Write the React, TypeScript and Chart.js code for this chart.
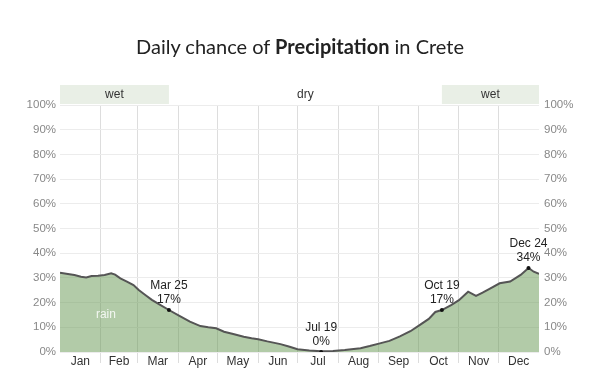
import React, { useEffect, useRef } from "react";
import { Chart, registerables } from "chart.js";

Chart.register(...registerables);

// ---- data ----
const MONTHS = ["Jan", "Feb", "Mar", "Apr", "May", "Jun", "Jul", "Aug", "Sep", "Oct", "Nov", "Dec"];
const MONTH_DAYS = [31, 28, 31, 30, 31, 30, 31, 31, 30, 31, 30, 31];

// day of year (0 = Jan 1) and daily chance of precipitation (%)
const DAYS = [0, 6, 11, 16, 20, 24, 29, 34, 39, 42, 46, 51, 56, 60, 65, 70, 76, 83, 91, 99, 107, 113, 119, 125, 132, 140, 146, 151, 158, 168, 175, 181, 190, 199, 208, 217, 222, 229, 236, 243, 251, 259, 267, 274, 281, 286, 291, 298, 304, 311, 317, 322, 328, 335, 343, 351, 357, 361, 365];
const RAIN = [32.1, 31.6, 31.2, 30.5, 30.2, 30.8, 30.9, 31.2, 31.9, 31.3, 29.8, 28.5, 27.1, 25.1, 23.1, 21.1, 19.2, 17, 14.6, 12.3, 10.5, 10.0, 9.6, 8.2, 7.3, 6.2, 5.6, 5.2, 4.3, 3.2, 2.1, 1.1, 0.6, 0.3, 0.4, 0.8, 1.1, 1.5, 2.4, 3.4, 4.5, 6.3, 8.4, 10.9, 13.4, 16.2, 17, 19, 21, 24.4, 22.7, 24, 25.8, 27.8, 28.5, 31.2, 34, 32.5, 31.6];

// annotated points
const ANN_DAYS = [83, 199, 291, 357];
const ANN_DATES = ["Mar 25", "Jul 19", "Oct 19", "Dec 24"];
const ANN_VALUES = [17, 0, 17, 34];

// seasons
const SEASON_START = [0, 83, 291];
const SEASON_END = [83, 291, 365];
const SEASON_NAMES = ["wet", "dry", "wet"];

const Y_TICKS = [0, 10, 20, 30, 40, 50, 60, 70, 80, 90, 100];

const FONT = '"Liberation Sans", Arial, sans-serif';

export default function App() {
  const ref = useRef<HTMLCanvasElement>(null);

  useEffect(() => {
    if (!ref.current) return;

    const monthStarts: number[] = [0];
    MONTH_DAYS.forEach((d, i) => monthStarts.push(monthStarts[i] + d));
    const xTickVals: number[] = [];
    for (let i = 0; i < 12; i++) {
      xTickVals.push(monthStarts[i]);
      xTickVals.push((monthStarts[i] + monthStarts[i + 1]) / 2);
    }
    xTickVals.push(monthStarts[12]);
    const seasonCenters = SEASON_START.map((s, i) => (s + SEASON_END[i]) / 2);

    const bandPlugin = {
      id: "bands",
      beforeDraw(chart: any) {
        const { ctx, chartArea } = chart;
        const x = chart.scales.x;
        ctx.save();
        ctx.fillStyle = "#e9efe6";
        SEASON_NAMES.forEach((n, i) => {
          if (n !== "wet") return;
          const x1 = x.getPixelForValue(SEASON_START[i]);
          const x2 = x.getPixelForValue(SEASON_END[i]);
          ctx.fillRect(x1, chartArea.top - 20, x2 - x1, 19);
        });
        ctx.restore();
      },
      afterDatasetsDraw(chart: any) {
        const { ctx } = chart;
        const x = chart.scales.x;
        const y = chart.scales.y;
        ctx.save();
        ctx.font = "12px " + FONT;
        ctx.textAlign = "center";
        ctx.textBaseline = "middle";
        ctx.fillStyle = "#222";
        ANN_DAYS.forEach((d, i) => {
          const px = x.getPixelForValue(d);
          const py = y.getPixelForValue(ANN_VALUES[i]);
          ctx.fillText(ANN_VALUES[i] + "%", px, py - 10);
          ctx.fillText(ANN_DATES[i], px, py - 24.5);
        });
        ctx.fillStyle = "rgba(255,255,255,0.85)";
        ctx.fillText("rain", x.getPixelForValue(35), y.getPixelForValue(15));
        ctx.restore();
      },
    };

    const chart = new Chart(ref.current, {
      type: "line",
      data: {
        datasets: [
          {
            label: "rain",
            data: DAYS.map((d, i) => ({ x: d, y: RAIN[i] })),
            borderColor: "#555",
            borderWidth: 2,
            backgroundColor: "rgba(101,151,81,0.5)",
            fill: "origin",
            pointRadius: 0,
            tension: 0,
            order: 2,
          },
          {
            label: "marks",
            data: ANN_DAYS.map((d, i) => ({ x: d, y: ANN_VALUES[i] })),
            showLine: false,
            pointRadius: 2,
            pointBackgroundColor: "#111",
            pointBorderColor: "#111",
            borderWidth: 0,
            fill: false,
            order: 1,
          },
        ],
      },
      options: {
        responsive: false,
        animation: false,
        layout: { padding: { top: 85, left: 0, right: 0, bottom: 0 } },
        plugins: {
          legend: { display: false },
          tooltip: { enabled: false },
          title: { display: false },
        },
        scales: {
          x: {
            type: "linear",
            position: "bottom",
            min: 0,
            max: 365,
            afterBuildTicks: (s: any) => {
              s.ticks = xTickVals.map((v) => ({ value: v }));
            },
            afterFit: (s: any) => {
              s.height = 32;
            },
            ticks: {
              autoSkip: false,
              maxRotation: 0,
              padding: -9,
              color: "#333",
              font: { size: 12, family: FONT },
              callback: (_v: any, i: number) => (i % 2 === 1 ? MONTHS[(i - 1) / 2] : ""),
            },
            grid: {
              drawTicks: true,
              tickLength: 11,
              color: (c: any) =>
                c.index % 2 === 0 && c.index !== 0 && c.index !== xTickVals.length - 1 ? "#dddddd" : "rgba(0,0,0,0)",
            },
            border: { display: false },
          },
          xt: {
            type: "linear",
            position: "top",
            min: 0,
            max: 365,
            afterBuildTicks: (s: any) => {
              s.ticks = seasonCenters.map((v) => ({ value: v }));
            },
            afterFit: (s: any) => {
              s.height = 20;
            },
            ticks: {
              autoSkip: false,
              maxRotation: 0,
              padding: 3,
              color: "#333",
              font: { size: 12, family: FONT },
              callback: (_v: any, i: number) => SEASON_NAMES[i],
            },
            grid: { display: false, drawTicks: false },
            border: { display: false },
          },
          y: {
            type: "linear",
            position: "left",
            min: 0,
            max: 100,
            afterBuildTicks: (s: any) => {
              s.ticks = Y_TICKS.map((v) => ({ value: v }));
            },
            afterFit: (s: any) => {
              s.width = 60;
            },
            ticks: {
              padding: 4,
              color: "#888",
              font: { size: 11.5, family: FONT },
              callback: (v: any) => v + "%",
            },
            grid: { color: "#ececec", drawTicks: false },
            border: { display: false },
          },
          y2: {
            type: "linear",
            position: "right",
            min: 0,
            max: 100,
            afterBuildTicks: (s: any) => {
              s.ticks = Y_TICKS.map((v) => ({ value: v }));
            },
            afterFit: (s: any) => {
              s.width = 61;
            },
            ticks: {
              padding: 5,
              color: "#888",
              font: { size: 11.5, family: FONT },
              callback: (v: any) => v + "%",
            },
            grid: { display: false, drawTicks: false },
            border: { display: false },
          },
        },
      },
      plugins: [bandPlugin],
    } as any);

    return () => chart.destroy();
  }, []);

  return (
    <div style={{ position: "fixed", left: 0, top: 0, width: 600, height: 384, background: "#fff" }}>
      <canvas ref={ref} width={600} height={384} style={{ position: "absolute", left: 0, top: 0, width: 600, height: 384 }} />
      <div
        style={{
          position: "absolute",
          left: 0,
          top: 34,
          width: 600,
          textAlign: "center",
          fontFamily: "Lato, 'Open Sans', sans-serif",
          fontSize: 20,
          lineHeight: "24px",
          color: "#222",
        }}
      >
        Daily chance of <b style={{ fontWeight: 700 }}>Precipitation</b> in Crete
      </div>
    </div>
  );
}
